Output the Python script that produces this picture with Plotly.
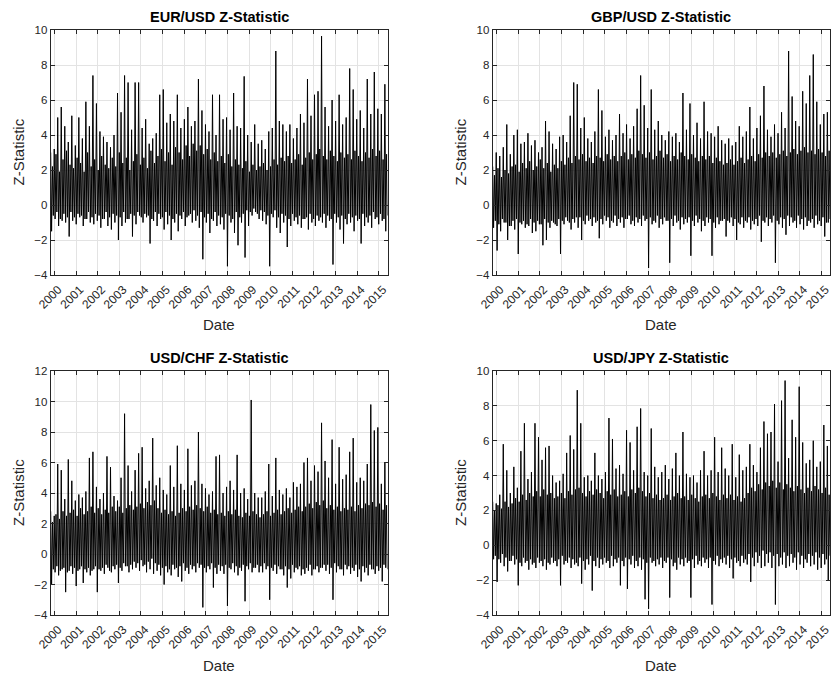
import pandas as pd
import plotly.graph_objects as go

# ---------------- data ----------------
# "spike" values: alternating peak / trough, carrying the visible outliers
eur_usd = [
    3.0, -1.5, 3.2, -0.8, 5.0, -1.2, 5.6, -0.9, 4.5, -1.0, 3.6, -1.8,
    5.1, -0.9, 3.4, -1.1, 5.0, -0.7, 3.8, -1.2, 5.9, -0.8, 4.5, -1.0,
    7.4, -1.1, 5.8, -0.9, 4.2, -1.3, 3.9, -0.8, 3.6, -1.2, 3.3, -1.4,
    4.0, -1.0, 6.4, -2.0, 5.3, -1.2, 7.4, -1.0, 7.0, -0.8, 4.3, -1.8,
    7.0, -1.1, 7.0, -0.6, 4.4, -1.0, 4.9, -0.7, 3.5, -2.2, 3.8, -0.9,
    4.1, -1.2, 6.3, -0.8, 6.6, -1.4, 4.7, -1.1, 5.2, -2.0, 4.8, -1.0,
    6.3, -1.5, 4.4, -0.8, 4.9, -1.2, 5.6, -0.6, 4.5, -1.0, 4.8, -0.9,
    7.2, -1.3, 5.4, -3.1, 4.6, -1.0, 4.2, -1.6, 6.3, -0.9, 4.0, -1.2,
    6.3, -1.1, 4.9, -1.4, 5.0, -3.5, 4.3, -1.0, 6.4, -1.6, 4.5, -2.3,
    4.4, -1.0, 7.35, -3.0, 4.0, -1.2, 3.6, -0.6, 4.6, -0.4, 3.5, -0.8,
    3.7, -0.9, 3.2, -1.1, 4.2, -3.5, 4.4, -0.7, 8.8, -1.3, 4.8, -1.6,
    4.6, -1.0, 4.2, -2.4, 4.6, -1.2, 3.8, -0.9, 4.4, -1.1, 5.2, -1.3,
    4.7, -0.8, 7.2, -1.4, 5.1, -1.0, 6.3, -1.2, 6.5, -0.9, 9.65, -1.0,
    5.6, -1.3, 4.5, -0.9, 6.0, -3.4, 4.8, -1.0, 6.3, -1.4, 4.6, -2.2,
    5.0, -1.1, 7.8, -1.0, 6.6, -1.5, 4.9, -0.9, 5.4, -2.2, 4.4, -1.2,
    7.2, -1.0, 5.2, -1.3, 7.6, -0.8, 5.5, -1.1, 5.2, -0.9, 6.9, -1.5,
]
# "core" values: alternating upper / lower edge of the dense band
eur_usd_core = [
    2.2, -0.6, 2.9, -0.4, 1.9, -0.8, 2.6, -0.5, 3.1, -0.7, 2.3, -0.4,
    2.1, -0.7, 2.7, -0.5, 2.4, -0.6, 1.9, -0.8, 3.0, -0.4, 2.2, -0.7,
    2.6, -0.5, 2.0, -0.6, 2.8, -0.8, 2.3, -0.4, 2.1, -0.7, 2.7, -0.5,
    2.2, -0.6, 3.0, -0.7, 2.4, -0.4, 2.7, -0.8, 2.0, -0.5, 2.5, -0.6,
    2.9, -0.4, 2.3, -0.7, 2.7, -0.5, 2.1, -0.6, 3.1, -0.8, 2.4, -0.4,
    2.8, -0.5, 3.2, -0.7, 2.5, -0.4, 3.0, -0.6, 2.3, -0.8, 3.3, -0.5,
    3.0, -0.6, 2.6, -0.4, 3.4, -0.7, 2.8, -0.5, 3.5, -0.3, 3.1, -0.6,
    3.4, -0.4, 2.9, -0.7, 3.2, -0.5, 2.6, -0.8, 3.0, -0.4, 2.5, -0.6,
    2.8, -0.7, 2.4, -0.5, 2.9, -0.6, 2.2, -0.8, 2.6, -0.4, 2.3, -0.7,
    2.1, -0.5, 2.5, -0.3, 1.9, -0.4, 2.3, -0.2, 2.0, -0.5, 2.2, -0.3,
    2.4, -0.4, 2.0, -0.6, 2.2, -0.5, 2.6, -0.3, 2.3, -0.7, 2.7, -0.5,
    2.5, -0.6, 2.8, -0.8, 2.4, -0.5, 2.6, -0.7, 2.9, -0.6, 2.3, -0.8,
    2.7, -0.7, 3.0, -0.5, 2.6, -0.8, 2.9, -0.6, 3.2, -0.7, 2.8, -0.5,
    2.6, -0.6, 3.1, -0.8, 2.8, -0.5, 2.5, -0.7, 3.0, -0.6, 2.7, -0.8,
    2.9, -0.5, 2.6, -0.7, 3.1, -0.6, 2.8, -0.8, 2.5, -0.5, 3.0, -0.7,
    2.7, -0.6, 3.2, -0.4, 2.8, -0.7, 3.1, -0.5, 2.6, -0.8, 2.9, -0.6,
]

gbp_usd = [
    2.2, -1.3, 3.0, -2.6, 2.8, -1.5, 3.3, -1.0, 4.6, -2.0, 2.9, -1.2,
    4.0, -1.4, 4.3, -2.8, 3.5, -1.1, 3.6, -1.3, 4.1, -1.2, 3.4, -1.6,
    3.7, -1.5, 3.0, -1.1, 3.3, -2.3, 4.8, -2.0, 4.2, -1.3, 3.5, -1.0,
    3.2, -1.2, 3.9, -2.8, 4.0, -1.1, 3.6, -0.9, 5.1, -1.4, 7.0, -1.0,
    6.9, -1.3, 4.4, -2.0, 5.0, -1.1, 3.8, -0.9, 3.6, -1.2, 4.2, -1.0,
    6.6, -1.9, 5.4, -1.1, 3.9, -0.9, 4.3, -1.3, 3.7, -1.0, 4.0, -1.2,
    5.2, -1.0, 4.1, -1.3, 4.6, -0.8, 3.8, -1.1, 4.5, -1.2, 5.5, -1.0,
    7.4, -1.2, 5.7, -0.9, 4.4, -3.6, 6.6, -1.1, 4.3, -1.0, 4.8, -1.3,
    4.0, -1.1, 3.7, -0.9, 4.2, -3.3, 3.9, -1.2, 4.1, -1.0, 3.6, -1.4,
    6.4, -1.1, 4.3, -1.0, 5.8, -2.9, 4.0, -1.2, 4.7, -1.0, 3.8, -1.5,
    5.9, -1.2, 4.2, -1.0, 4.1, -2.9, 3.9, -1.3, 4.5, -1.1, 3.7, -0.9,
    3.5, -1.8, 3.8, -1.0, 3.4, -1.2, 3.6, -2.0, 4.5, -1.1, 3.9, -1.3,
    4.2, -1.0, 5.6, -1.4, 3.8, -1.1, 4.4, -1.2, 5.1, -2.1, 6.8, -1.0,
    4.3, -1.2, 3.9, -1.0, 4.6, -3.3, 4.1, -1.1, 5.3, -1.3, 4.4, -1.7,
    8.8, -1.2, 6.2, -1.0, 4.8, -1.3, 4.5, -1.1, 6.5, -1.4, 5.8, -1.2,
    7.4, -1.0, 8.6, -1.3, 5.9, -1.1, 4.6, -1.2, 5.2, -1.8, 5.3, -1.0,
]
gbp_usd_core = [
    1.7, -0.9, 2.1, -1.1, 1.6, -0.8, 2.0, -1.0, 1.8, -1.2, 2.2, -0.9,
    2.3, -0.8, 1.9, -1.0, 2.4, -0.9, 2.1, -1.1, 2.5, -0.8, 2.0, -1.0,
    2.2, -0.9, 2.6, -1.1, 2.1, -0.8, 2.4, -1.0, 1.9, -0.9, 2.3, -1.1,
    2.1, -0.8, 2.5, -0.9, 2.3, -0.7, 2.7, -1.0, 2.4, -0.8, 2.8, -0.7,
    2.6, -0.7, 2.9, -0.9, 2.5, -0.6, 2.7, -0.8, 2.4, -0.7, 2.8, -0.9,
    2.7, -0.8, 2.5, -0.6, 2.9, -0.7, 2.6, -0.9, 2.8, -0.6, 2.5, -0.8,
    2.8, -0.7, 3.0, -0.8, 2.6, -0.6, 2.9, -0.9, 2.7, -0.7, 3.1, -0.8,
    2.9, -0.6, 2.7, -0.8, 3.0, -0.7, 2.6, -0.9, 2.8, -0.6, 3.1, -0.8,
    2.7, -0.7, 2.9, -0.9, 2.5, -0.8, 2.8, -0.6, 2.6, -0.9, 3.0, -0.7,
    2.8, -0.8, 2.6, -0.7, 2.9, -0.9, 2.7, -0.6, 2.5, -0.8, 2.8, -0.9,
    2.6, -0.7, 2.8, -0.8, 2.4, -1.0, 2.7, -0.7, 2.5, -0.9, 2.3, -0.8,
    2.4, -0.9, 2.6, -0.7, 2.3, -0.8, 2.5, -1.0, 2.7, -0.7, 2.4, -0.9,
    2.6, -0.7, 2.8, -0.9, 2.5, -0.8, 2.9, -0.6, 2.7, -0.9, 3.0, -0.7,
    2.8, -0.8, 3.0, -0.6, 2.7, -0.9, 2.9, -0.7, 3.1, -0.8, 2.8, -0.6,
    3.0, -0.7, 3.2, -0.9, 2.9, -0.6, 3.1, -0.8, 3.3, -0.7, 3.0, -0.9,
    3.1, -0.8, 2.9, -0.6, 3.2, -0.9, 3.0, -0.7, 2.8, -1.0, 3.1, -0.8,
]

usd_chf = [
    2.8, -2.0, 2.5, -1.2, 5.9, -1.4, 5.5, -1.0, 3.6, -2.5, 6.2, -1.1,
    4.8, -1.3, 3.5, -2.1, 3.9, -1.0, 3.7, -1.9, 4.1, -1.2, 6.3, -1.4,
    6.7, -1.0, 4.4, -2.5, 3.6, -1.1, 4.0, -1.3, 6.4, -0.9, 5.7, -1.2,
    3.8, -1.0, 3.5, -1.9, 5.0, -1.1, 9.2, -0.8, 5.8, -1.2, 4.1, -1.0,
    5.5, -0.9, 6.6, -1.1, 7.0, -0.8, 4.3, -1.2, 4.8, -1.0, 7.6, -1.3,
    4.5, -1.1, 5.0, -1.4, 4.2, -2.0, 3.9, -1.2, 5.8, -1.4, 4.4, -1.0,
    7.1, -1.5, 4.6, -1.8, 4.2, -1.1, 6.9, -1.3, 4.5, -1.0, 4.8, -1.2,
    8.0, -0.9, 4.6, -3.5, 4.3, -1.2, 3.9, -1.0, 4.1, -2.2, 6.4, -1.3,
    6.5, -1.1, 4.0, -1.3, 4.4, -3.4, 4.8, -1.0, 4.2, -1.2, 6.5, -1.4,
    4.0, -1.1, 4.3, -3.1, 3.6, -1.0, 10.1, -1.2, 4.0, -0.9, 3.7, -1.2,
    3.7, -1.2, 4.1, -1.0, 5.9, -3.0, 3.8, -1.1, 6.3, -1.3, 4.2, -1.0,
    3.9, -1.4, 4.3, -2.2, 3.7, -1.6, 4.7, -1.2, 4.4, -1.0, 4.6, -1.4,
    6.0, -1.3, 6.3, -1.1, 4.8, -1.4, 5.8, -1.0, 5.4, -1.2, 8.6, -0.9,
    6.1, -1.1, 5.0, -1.3, 7.5, -3.0, 4.6, -1.2, 7.0, -1.0, 4.9, -1.4,
    5.2, -1.0, 6.7, -1.3, 7.6, -1.1, 4.7, -1.5, 5.0, -1.8, 4.8, -1.2,
    5.9, -1.4, 9.8, -1.0, 8.1, -1.3, 8.3, -1.1, 4.6, -1.8, 6.0, -0.9,
]
usd_chf_core = [
    2.1, -1.0, 2.6, -0.8, 2.3, -1.1, 2.8, -0.9, 2.5, -1.2, 2.7, -0.8,
    2.9, -0.9, 2.5, -1.1, 3.0, -0.8, 2.6, -1.0, 2.8, -0.9, 3.1, -1.1,
    2.7, -0.8, 3.0, -1.0, 2.6, -0.9, 2.9, -0.7, 2.7, -1.1, 3.1, -0.8,
    2.8, -0.7, 3.1, -0.9, 2.7, -0.6, 3.0, -0.8, 3.2, -0.7, 2.9, -0.5,
    3.1, -0.6, 3.3, -0.4, 3.0, -0.7, 3.4, -0.5, 3.2, -0.3, 3.5, -0.6,
    3.0, -0.7, 2.7, -0.9, 2.9, -0.8, 2.6, -1.0, 2.8, -0.7, 2.5, -0.9,
    2.7, -0.8, 3.0, -0.6, 2.8, -0.9, 3.1, -0.7, 2.9, -0.8, 3.2, -0.6,
    3.0, -0.7, 2.8, -0.9, 3.1, -0.8, 2.7, -0.6, 2.9, -0.9, 2.6, -0.7,
    2.7, -0.8, 2.5, -0.7, 2.8, -0.9, 2.6, -0.6, 2.9, -0.8, 2.5, -0.9,
    2.4, -0.7, 2.7, -0.8, 2.5, -0.6, 2.8, -0.9, 2.6, -0.7, 2.4, -0.8,
    2.6, -0.6, 2.8, -0.8, 2.5, -0.9, 2.7, -0.7, 2.9, -0.8, 2.6, -1.0,
    2.8, -0.8, 3.0, -1.0, 2.7, -0.7, 2.9, -0.9, 3.1, -0.8, 2.8, -1.0,
    3.1, -0.9, 3.3, -0.7, 3.0, -1.0, 3.4, -0.8, 3.2, -0.9, 3.5, -0.7,
    3.0, -0.7, 3.2, -0.9, 2.9, -0.6, 3.1, -0.8, 2.8, -1.0, 3.0, -0.7,
    2.9, -0.8, 3.1, -0.9, 2.8, -0.7, 3.2, -1.0, 3.0, -0.8, 3.3, -0.9,
    3.2, -0.7, 3.4, -1.0, 3.1, -0.8, 3.3, -0.9, 2.9, -0.7, 3.2, -1.0,
]

usd_jpy = [
    2.5, -0.8, 2.4, -2.1, 2.9, -1.0, 5.8, -1.2, 4.3, -1.5, 3.0, -0.9,
    4.5, -1.1, 3.3, -2.3, 5.4, -1.2, 7.0, -1.0, 3.8, -1.4, 4.2, -1.1,
    7.0, -1.3, 6.2, -1.0, 4.9, -1.2, 5.6, -1.4, 5.7, -1.1, 4.0, -1.0,
    3.6, -1.2, 3.7, -2.3, 4.1, -1.1, 5.3, -1.0, 6.3, -1.3, 5.5, -1.1,
    8.9, -1.2, 7.0, -2.2, 3.9, -1.4, 4.0, -1.1, 3.7, -2.6, 5.3, -1.2,
    4.0, -1.3, 3.8, -1.1, 4.2, -1.0, 7.3, -1.3, 6.1, -1.2, 4.4, -1.0,
    4.6, -2.3, 4.1, -1.2, 6.6, -2.5, 5.9, -1.1, 4.3, -1.3, 6.8, -1.2,
    7.85, -1.4, 4.2, -3.1, 4.0, -3.65, 6.7, -1.0, 4.5, -1.2, 3.9, -1.1,
    4.2, -1.3, 4.6, -1.0, 3.8, -3.0, 4.4, -1.2, 5.3, -1.4, 4.0, -1.1,
    6.5, -1.2, 4.1, -1.0, 3.9, -3.0, 4.0, -1.3, 3.6, -1.1, 4.3, -1.2,
    5.4, -1.0, 4.0, -1.3, 4.3, -3.4, 6.2, -1.1, 4.2, -1.2, 5.6, -1.0,
    4.4, -1.1, 4.0, -1.3, 5.8, -1.9, 3.9, -1.0, 5.2, -1.2, 4.3, -1.0,
    4.5, -1.1, 5.8, -2.1, 4.6, -1.2, 4.2, -1.0, 5.6, -1.3, 7.1, -1.2,
    6.4, -1.0, 6.5, -1.3, 8.1, -3.4, 4.8, -1.2, 8.3, -1.1, 9.45, -1.3,
    5.0, -1.2, 7.2, -1.0, 6.2, -1.4, 9.1, -1.1, 5.9, -1.3, 4.7, -1.0,
    4.9, -1.2, 6.0, -1.1, 4.5, -1.4, 4.8, -1.3, 6.9, -1.1, 5.7, -2.0,
]
usd_jpy_core = [
    2.0, -0.6, 2.3, -0.8, 2.1, -0.5, 2.5, -0.7, 2.2, -0.9, 2.4, -0.6,
    2.7, -0.8, 2.5, -1.0, 2.9, -0.7, 2.6, -0.9, 3.0, -0.8, 2.8, -1.0,
    3.1, -0.7, 2.8, -0.9, 3.2, -0.8, 2.9, -1.0, 3.0, -0.7, 2.7, -0.9,
    2.8, -0.8, 3.0, -0.6, 2.7, -0.9, 3.1, -0.7, 2.9, -0.8, 3.2, -1.0,
    3.3, -0.7, 3.0, -0.9, 2.8, -0.8, 3.1, -0.6, 2.9, -0.9, 3.2, -0.7,
    3.0, -0.8, 2.7, -0.7, 3.1, -0.9, 2.9, -0.6, 3.2, -0.8, 2.8, -0.7,
    2.9, -0.9, 3.1, -0.7, 2.8, -0.8, 3.2, -0.6, 3.0, -0.9, 3.3, -0.7,
    3.1, -0.8, 2.8, -1.0, 3.0, -0.7, 2.7, -0.9, 2.9, -0.8, 2.6, -0.7,
    2.7, -0.9, 2.9, -0.7, 2.6, -0.8, 2.8, -1.0, 3.0, -0.7, 2.7, -0.8,
    2.8, -0.7, 2.6, -0.9, 2.9, -0.8, 2.7, -0.6, 2.5, -0.9, 2.8, -0.7,
    2.9, -0.8, 2.7, -0.7, 3.0, -0.9, 2.8, -0.6, 2.6, -0.8, 2.9, -0.7,
    2.7, -0.6, 2.9, -0.8, 2.6, -0.7, 2.8, -0.9, 2.5, -0.6, 2.7, -0.8,
    3.0, -0.5, 3.3, -0.7, 3.1, -0.4, 3.5, -0.6, 3.2, -0.3, 3.6, -0.5,
    3.4, -0.4, 3.7, -0.6, 3.3, -0.5, 3.6, -0.7, 3.2, -0.4, 3.5, -0.6,
    3.3, -0.5, 3.1, -0.7, 3.4, -0.4, 3.2, -0.6, 3.0, -0.8, 3.3, -0.5,
    3.1, -0.6, 3.4, -0.4, 3.2, -0.7, 3.0, -0.5, 3.3, -0.8, 2.9, -0.6,
]

spike_lists = [eur_usd, gbp_usd, usd_chf, usd_jpy]
core_lists = [eur_usd_core, gbp_usd_core, usd_chf_core, usd_jpy_core]
titles = ["EUR/USD Z-Statistic", "GBP/USD Z-Statistic",
          "USD/CHF Z-Statistic", "USD/JPY Z-Statistic"]
y_ranges = [[-4, 10], [-4, 10], [-4, 12], [-4, 10]]
date_start, date_end = "1999-11-01", "2015-05-26"
x_title = "Date"
y_title = "Z-Statistic"


def merge(spikes, core):
    """Interleave the two read-off lists pair by pair into one time series."""
    out = []
    for p in range(0, len(spikes), 2):
        out += [spikes[p], spikes[p + 1], core[p], core[p + 1]]
    return out


# ---------------- layout geometry ----------------
W, H = 832, 675
boxes = [  # (left, right, top, bottom) in pixels
    (50.7, 387.5, 30, 275),
    (492.7, 830, 30, 275),
    (50.7, 387.5, 371, 615),
    (492.7, 830, 371, 615),
]
ytitle_x = [18, 460, 18, 460]

FONT = "Liberation Sans, Arial, Helvetica, sans-serif"
AX = "#262626"
GRID = "#e3e3e3"

fig = go.Figure()
layout = dict(
    width=W, height=H, margin=dict(l=0, r=0, t=0, b=0, pad=0, autoexpand=False),
    paper_bgcolor="white", plot_bgcolor="white", showlegend=False,
    font=dict(family=FONT, color=AX, size=11),
)
annotations = []
for i, (sp, co, ttl, yr, (l, r, t, b)) in enumerate(zip(spike_lists, core_lists, titles, y_ranges, boxes)):
    n = i + 1
    xa = "x" if n == 1 else f"x{n}"
    ya = "y" if n == 1 else f"y{n}"
    vals = merge(sp, co)
    dates = pd.date_range(date_start, date_end, periods=len(vals))
    fig.add_trace(go.Scatter(x=dates, y=vals, mode="lines", xaxis=xa, yaxis=ya,
                             line=dict(color="black", width=1.0), hoverinfo="skip"))
    xkey = "xaxis" if n == 1 else f"xaxis{n}"
    ykey = "yaxis" if n == 1 else f"yaxis{n}"
    layout[xkey] = dict(
        domain=[l / W, r / W], anchor=ya, type="date", automargin=False,
        range=[date_start, date_end], tick0="2000-01-01", dtick="M12", tickformat="%Y",
        tickangle=-45, ticks="inside", ticklen=4, tickcolor=AX, tickwidth=1,
        ticklabelshift=4, ticklabelstandoff=2,
        showline=True, linecolor=AX, linewidth=1, mirror="ticks",
        showgrid=True, gridcolor=GRID, gridwidth=1, zeroline=False,
        tickfont=dict(size=12, color=AX, family=FONT),
    )
    layout[ykey] = dict(
        domain=[1 - b / H, 1 - t / H], anchor=xa, range=yr, dtick=2, tick0=0, automargin=False,
        ticks="inside", ticklen=4, tickcolor=AX, tickwidth=1,
        showline=True, linecolor=AX, linewidth=1, mirror="ticks",
        showgrid=True, gridcolor=GRID, gridwidth=1, zeroline=False,
        tickfont=dict(size=11.5, color=AX, family=FONT),
    )
    cx = (l + r) / 2 / W
    annotations.append(dict(text=f"<b>{ttl}</b>", x=cx, y=1 - (t - 13) / H, xref="paper", yref="paper",
                            xanchor="center", yanchor="middle", showarrow=False,
                            font=dict(size=14.5, color="black", family=FONT)))
    annotations.append(dict(text=x_title, x=cx, y=1 - (b + 50) / H, xref="paper", yref="paper",
                            xanchor="center", yanchor="middle", showarrow=False,
                            font=dict(size=15, color=AX, family=FONT)))
    annotations.append(dict(text=y_title, x=ytitle_x[i] / W, y=1 - (t + b) / 2 / H, xref="paper", yref="paper",
                            xanchor="center", yanchor="middle", textangle=-90, showarrow=False,
                            font=dict(size=15, color=AX, family=FONT)))
layout["annotations"] = annotations
fig.update_layout(**layout)
fig.write_html("out.html", config={"displayModeBar": False},
               post_script="document.body.style.margin='0';document.body.style.overflow='hidden';")
